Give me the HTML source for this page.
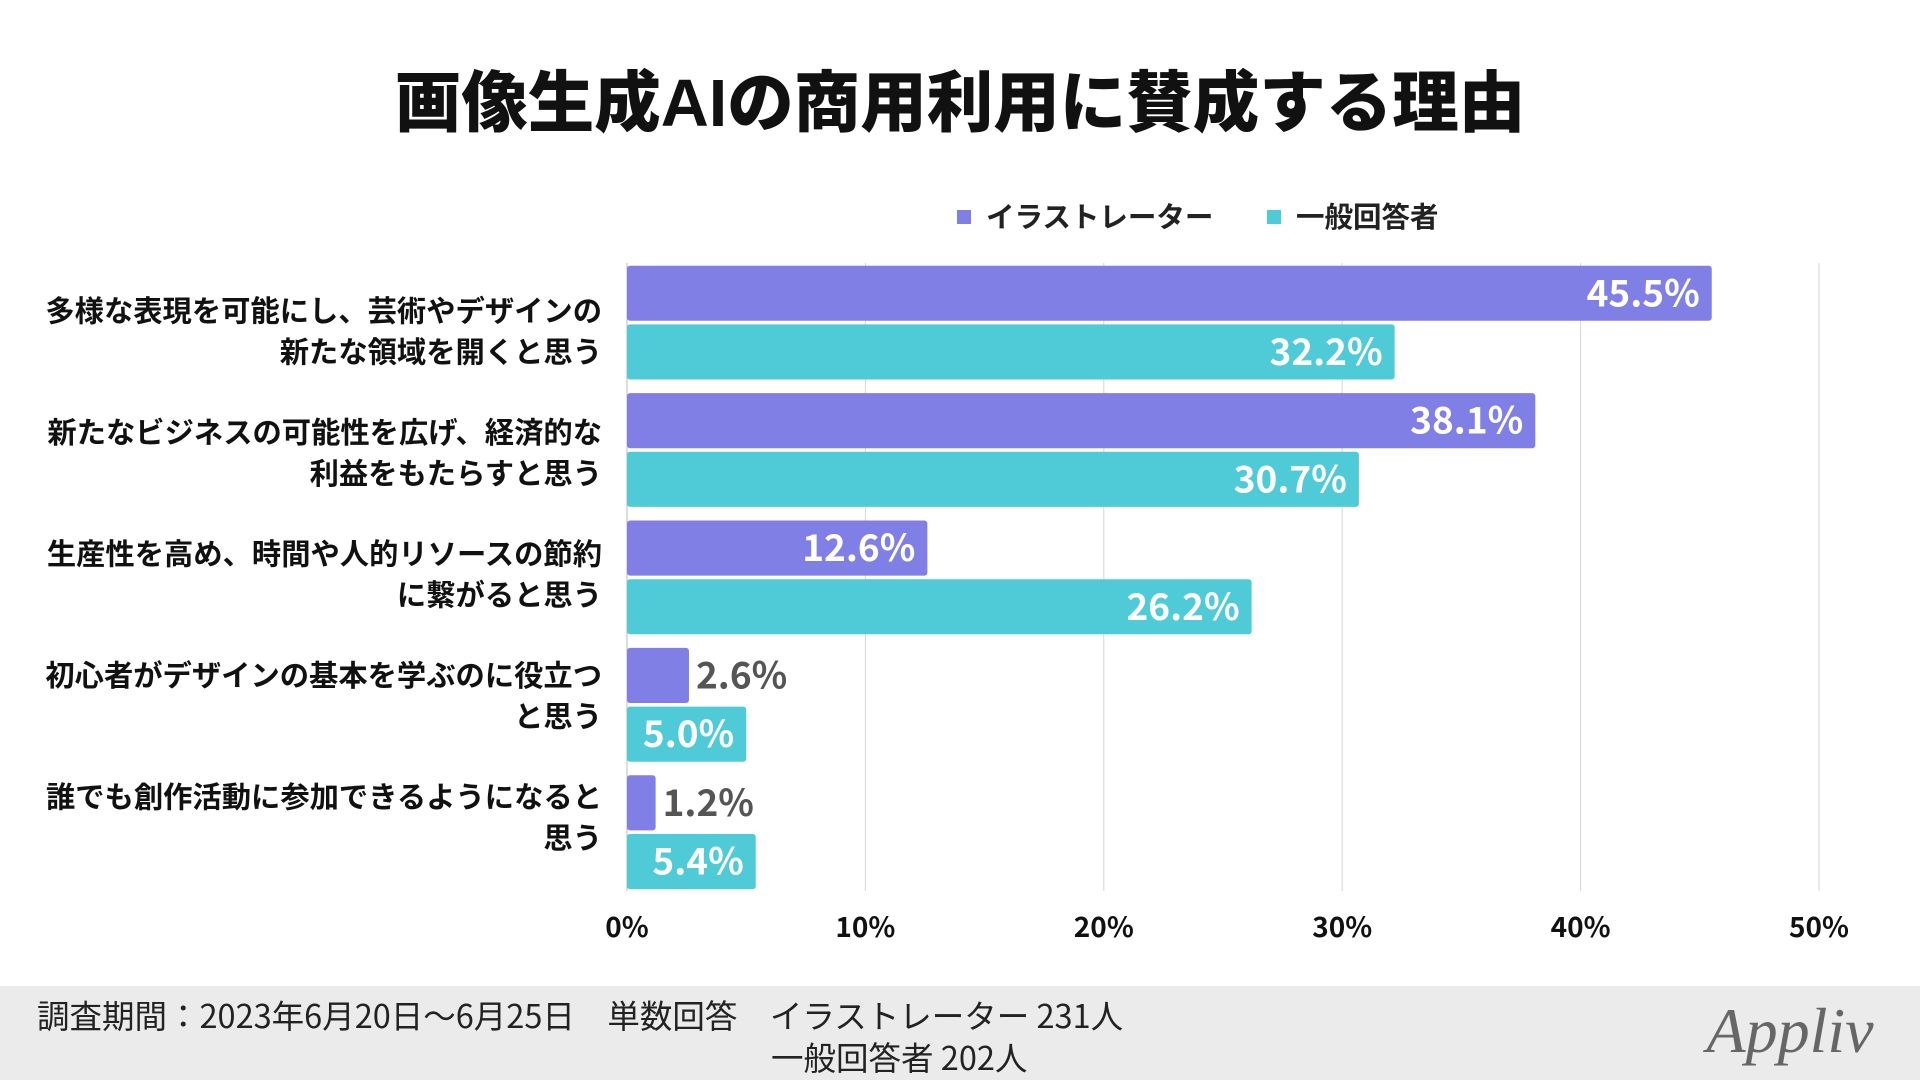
<!DOCTYPE html>
<html><head><meta charset="utf-8">
<style>
html,body{margin:0;padding:0;width:1920px;height:1080px;background:#fff;overflow:hidden;font-family:"Liberation Sans","Noto Sans CJK JP",sans-serif;}
</style></head>
<body>
<svg id="chart" width="1920" height="1080" xmlns="http://www.w3.org/2000/svg" style="position:absolute;left:0;top:0;font-family:'Liberation Sans','Noto Sans CJK JP',sans-serif;">
<rect x="0" y="986" width="1920" height="94" fill="#ebebeb"/>
<text x="960" y="126" text-anchor="middle" font-size="66.5" font-weight="900" fill="#111">画像生成AIの商用利用に賛成する理由</text>
<g>
<rect x="957" y="210" width="14" height="14" fill="#7f7fe6"/>
<text x="986" y="227" font-size="28.5" font-weight="700" fill="#222">イラストレーター</text>
<rect x="1267" y="210" width="14" height="14" fill="#4ecbd6"/>
<text x="1296" y="227" font-size="28.5" font-weight="700" fill="#222">一般回答者</text>
</g>
<g id="grid"></g><g id="bars"></g><g id="labels"></g>
<text x="37" y="1028" font-size="32.5" fill="#222" font-family="'Noto Sans CJK JP',sans-serif">調査期間：2023年6月20日〜6月25日　単数回答　イラストレーター 231人</text>
<text x="771" y="1070" font-size="32.5" fill="#222" font-family="'Noto Sans CJK JP',sans-serif">一般回答者 202人</text>
<text x="1790" y="1052" text-anchor="middle" font-size="64" font-style="italic" font-family="'Liberation Serif',serif" fill="#666">Appliv</text>
</svg>
<script>
const categories=[["多様な表現を可能にし、芸術やデザインの","新たな領域を開くと思う"],["新たなビジネスの可能性を広げ、経済的な","利益をもたらすと思う"],["生産性を高め、時間や人的リソースの節約","に繋がると思う"],["初心者がデザインの基本を学ぶのに役立つ","と思う"],["誰でも創作活動に参加できるようになると","思う"]];
const illustrator=[45.5,38.1,12.6,2.6,1.2];
const general=[32.2,30.7,26.2,5.0,5.4];
const ticks=[0,10,20,30,40,50];
const NS="http://www.w3.org/2000/svg";
const X0=627,X1=1819,MAXV=50,TOP=265.7,PITCH=127.4,BH=55.1,GAP=3.6,LPITCH=121.5;
const NUMFONT="'Noto Sans CJK JP',sans-serif";
const xs=v=>X0+(X1-X0)*v/MAXV;
function mk(t,a,p){const e=document.createElementNS(NS,t);for(const k in a)e.setAttribute(k,a[k]);p.appendChild(e);return e;}
const grid=document.getElementById('grid'),bars=document.getElementById('bars'),labels=document.getElementById('labels');
ticks.forEach(t=>{
 const l=mk('line',{x1:xs(t),x2:xs(t),y1:263,y2:891,stroke:t===0?'#bbb':'#d6d6d6','stroke-width':1},grid);
 
 
 const tx=mk('text',{x:xs(t),y:937,'text-anchor':'middle','font-size':28,'font-weight':700,fill:'#111','font-family':NUMFONT},grid);
 tx.textContent=t+'%';
 
 
});
categories.forEach((c,i)=>{
 const y=TOP+i*PITCH;
 const ly=TOP+BH+GAP/2-1+i*LPITCH;
 c.forEach((ln,j)=>{
  const t=mk('text',{x:602,y:ly+j*41,'text-anchor':'end','font-size':29.3,'font-weight':700,fill:'#111'},labels);
  t.textContent=ln;
  
  
 });
 [[illustrator[i],'#7f7fe6',y,'illustrator'],[general[i],'#4ecbd6',y+BH+GAP,'general']].forEach(([v,col,by,nm])=>{
  const w=xs(v)-X0;
  const r=mk('rect',{x:X0,y:by,width:w,height:BH,rx:3,fill:col},bars);
  
  
  const inside=w>110;
  const t=mk('text',{x:inside?xs(v)-12:xs(v)+7,y:by+BH/2+13,'text-anchor':inside?'end':'start','font-size':37,'font-weight':700,fill:inside?'#fff':'#555','font-family':NUMFONT},labels);
  if(!inside && nm==='general'){t.setAttribute('x',X0+18);t.setAttribute('fill','#fff');t.setAttribute('font-size',35);}
  t.textContent=v.toFixed(1)+'%';
  
  
 });
});
</script>
</body></html>
